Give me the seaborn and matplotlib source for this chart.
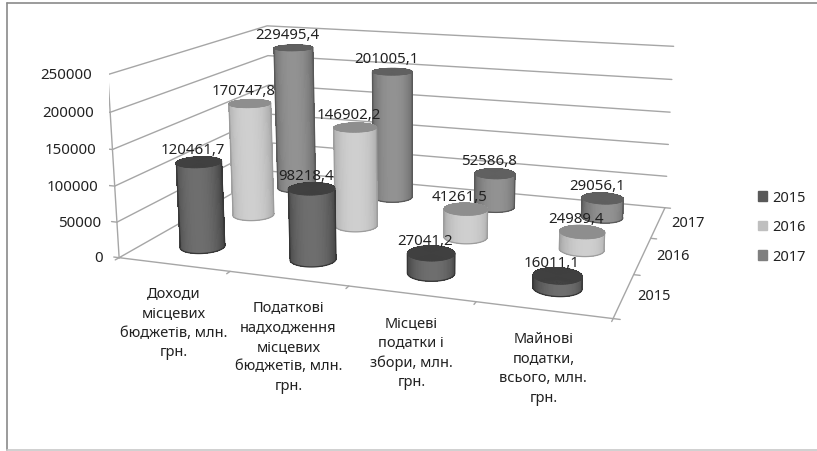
import numpy as np
import matplotlib
matplotlib.use('Agg')
import matplotlib.pyplot as plt
from matplotlib.colors import to_rgb
from matplotlib.patches import Patch
from mpl_toolkits.mplot3d import proj3d
import seaborn as sns

categories = ['Доходи\nмісцевих\nбюджетів, млн.\nгрн.',
              'Податкові\nнадходження\nмісцевих\nбюджетів, млн.\nгрн.',
              'Місцеві\nподатки і\nзбори, млн.\nгрн.',
              'Майнові\nподатки,\nвсього, млн.\nгрн.']
years = ['2015', '2016', '2017']
values_2015 = [120461.7, 98218.4, 27041.2, 16011.1]
values_2016 = [170747.8, 146902.2, 41261.5, 24989.4]
values_2017 = [229495.4, 201005.1, 52586.8, 29056.1]
z_ticks = [0, 50000, 100000, 150000, 200000, 250000]

sns.set_theme(style='white')
plt.rcParams['font.family'] = ['Noto Sans', 'DejaVu Sans']
W, H = 817, 452
TEXT = '#222222'
GRID = '#a6a6a6'

fig = plt.figure(figsize=(W / 100, H / 100), dpi=100)
ax = fig.add_subplot(projection='3d', computed_zorder=False)
ax.set_xlim(0, 4)
ax.set_ylim(0, 3)
ax.set_zlim(0, 250000)
ax.set_axis_off()

# camera fitted to the corners of the chart box
elev, azim = 13.848, -71.051
box_x, box_y = 2.6592, 1.8963
ax.view_init(elev, azim)
ax.set_box_aspect((box_x, box_y, 1))
ax.set_proj_type('persp', focal_length=0.3759)
ax.set_position([0.13364, 0.00744, 0.71707, 1.29613])
M = ax.get_proj()


def label3d(x, y, z, text, dx=0, dy=0, size=10.5, **kw):
    # 2D text at a projected point, so offsets can be given in pixels
    u, v, _ = proj3d.proj_transform(x, y, z, M)
    ax.annotate(text, (u, v), xytext=(dx, dy), textcoords='offset pixels',
                annotation_clip=False, fontsize=size, color=TEXT, zorder=100, **kw)


palette = sns.color_palette(['#595959', '#bfbfbf', '#7f7f7f'])
side_mid = ['#6e6e6e', '#cfcfcf', '#929292']
side_edge = ['#363636', '#9c9c9c', '#585858']
top_col = ['#404040', '#8e8e8e', '#606060']
series = [values_2015, values_2016, values_2017]

# walls and floor
for z in z_ticks[1:]:
    ax.plot([0, 0, 4], [0, 3, 3], [z, z, z], color=GRID, lw=1, zorder=1)
ax.plot([0, 4, 4, 0, 0], [0, 0, 3, 3, 0], [0] * 5, color=GRID, lw=1, zorder=1)
ax.plot([0, 0], [0, 0], [0, 250000], color=GRID, lw=1, zorder=1)
for z in z_ticks:
    ax.plot([-0.05, 0], [0, 0], [z, z], color=GRID, lw=1, zorder=1)
    label3d(0, 0, z, str(z), dx=-16, size=10.8, ha='right', va='center')
for i in range(5):
    ax.plot([i, i], [0, -0.06], [0, 0], color=GRID, lw=1, zorder=1)
for j in range(4):
    ax.plot([4, 4.05], [j, j], [0, 0], color=GRID, lw=1, zorder=1)

# cylinders, back row first
radius = 0.185
radius_y = radius / 4 * box_x * 3 / box_y
theta = np.linspace(0, 2 * np.pi, 91)
view = np.deg2rad(azim)
shade = np.clip(np.cos(theta - view), 0, 1)
front = np.linspace(view - np.pi / 2, view + np.pi / 2, 41)
for j in range(2, -1, -1):
    mid = np.array(to_rgb(side_mid[j]))
    edge = np.array(to_rgb(side_edge[j]))
    rgb = edge + (mid - edge) * shade[:, None]
    rgba = np.column_stack([rgb, np.ones(len(theta))])
    for i in range(4):
        h = series[j][i]
        xc, yc = i + 0.5, j + 0.5
        order = 10 + (2 - j) * 10 + i
        X = np.vstack([xc + radius * np.cos(theta)] * 2)
        Y = np.vstack([yc + radius_y * np.sin(theta)] * 2)
        Z = np.vstack([np.zeros_like(theta), np.full_like(theta, h)])
        ax.plot_surface(X, Y, Z, facecolors=np.stack([rgba, rgba]), shade=False,
                        rstride=1, cstride=1, linewidth=0, antialiased=False, zorder=order)
        # smooth outline round the hard-edged side
        ox = xc + radius * np.cos(front)
        oy = yc + radius_y * np.sin(front)
        ax.plot(np.r_[ox[0], ox, ox[-1]], np.r_[oy[0], oy, oy[-1]],
                np.r_[h, np.zeros_like(ox), h], color=side_edge[j], lw=0.9,
                zorder=order + 0.2)
        rr = np.array([0, 1])
        Xt = xc + radius * np.outer(rr, np.cos(theta))
        Yt = yc + radius_y * np.outer(rr, np.sin(theta))
        ax.plot_surface(Xt, Yt, np.full_like(Xt, h), color=top_col[j], shade=False,
                        rstride=1, cstride=1, linewidth=0.5, edgecolors=top_col[j],
                        zorder=order + 0.5)
        label3d(xc, yc, h, f'{h:.1f}'.replace('.', ','), dx=-6, dy=13, size=10.8,
                ha='center', va='center')

for i, name in enumerate(categories):
    label3d(i + 0.5, 0, 0, name, dy=-21, ha='center', va='top', linespacing=1.42)
for j, name in enumerate(years):
    label3d(4, j + 0.5, 0, name, dx=30, ha='center', va='center')

handles = [Patch(color=palette[k], label=years[k]) for k in range(3)]
fig.legend(handles=handles, loc='center left', bbox_to_anchor=(758 / W, 1 - 228 / H),
           frameon=False, fontsize=10.5, handlelength=0.62, handleheight=0.62,
           handletextpad=0.35, labelspacing=1.0, borderpad=0, borderaxespad=0,
           labelcolor=TEXT)

# chart frame
fig.add_artist(plt.Line2D([6.5 / W, 6.5 / W], [1 / H, 448 / H], color='#8a8a8a', lw=1.2))
fig.add_artist(plt.Line2D([6.5 / W, 1], [448 / H, 448 / H], color='#8a8a8a', lw=1.2))
fig.add_artist(plt.Line2D([6.5 / W, 1], [1 / H, 1 / H], color='#c8c8c8', lw=1.2))
fig.savefig('out.png', dpi=100)
